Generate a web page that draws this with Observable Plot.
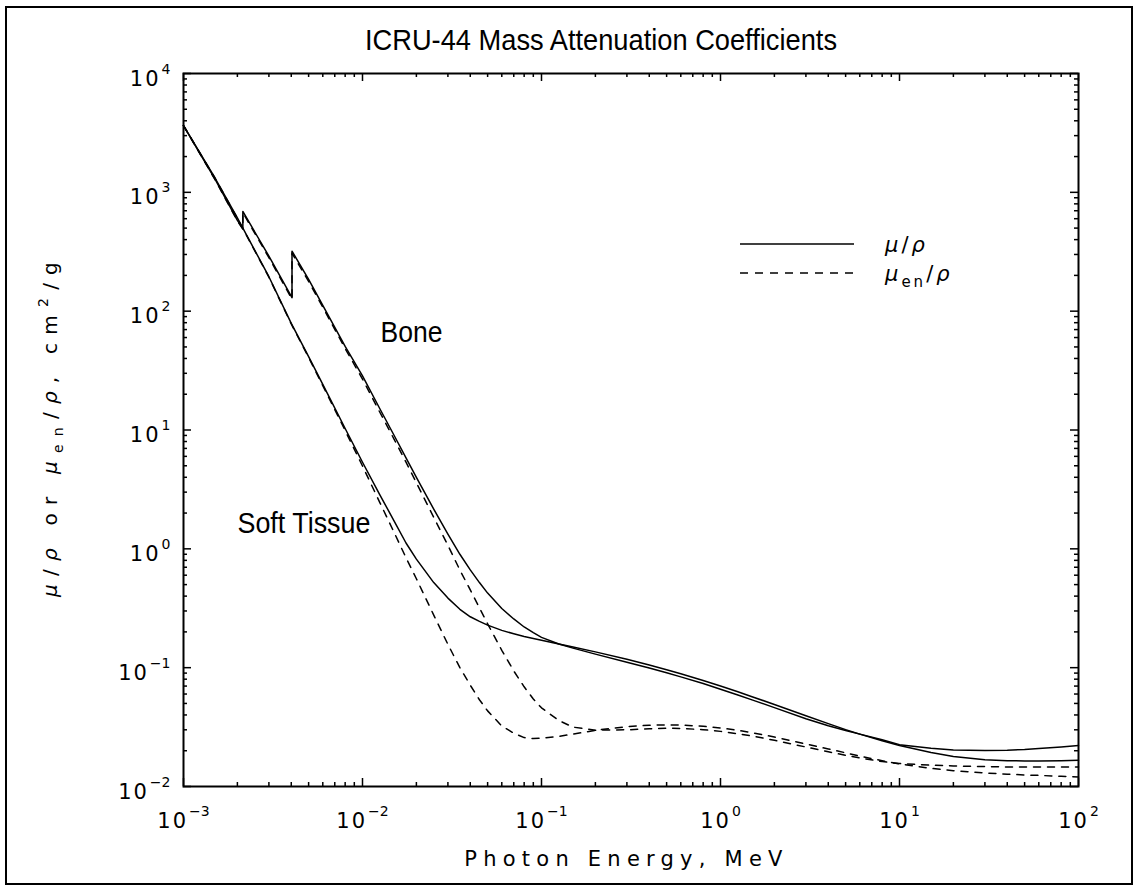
<!DOCTYPE html>
<html>
<head>
<meta charset="utf-8">
<script src="https://cdn.jsdelivr.net/npm/d3@7"></script>
<script src="https://cdn.jsdelivr.net/npm/@observablehq/plot@0.6"></script>
<style>
html, body { margin: 0; padding: 0; background: #fff; }
#wrap { position: relative; width: 1138px; height: 890px; overflow: hidden; }
#chart { position: absolute; left: 0; top: 0; }
#border { position: absolute; left: 5px; top: 6px; width: 1124px; height: 875px; border: 2px solid #000; pointer-events: none; }
</style>
</head>
<body>
<div id="wrap"><div id="chart"></div><div id="border"></div></div>
<script>
// ---------------- data ----------------
// Soft Tissue (ICRU-44)
const softE = [0.001,0.0015,0.002,0.003,0.004,0.005,0.006,0.008,
  0.01,0.0125,0.015,0.0175,0.02,0.025,0.03,0.035,0.04,0.045,0.05,0.06,0.07,0.08,0.09,
  0.1,0.125,0.15,0.2,0.3,0.4,0.5,0.6,0.8,
  1,1.25,1.5,2,3,4,5,6,8,
  10,15,20,30,40,50,60,80,100];
const softMu = [3650,1320,610,195,79,41.5,24.2,10.3,
  5.35,2.85,1.72,1.12,0.82,0.52,0.385,0.31,0.268,0.245,0.228,0.206,0.193,0.183,0.176,
  0.170,0.158,0.149,0.1358,0.1175,0.1051,0.0960,0.0888,0.0779,
  0.0701,0.0627,0.0570,0.0490,0.0394,0.0338,0.0301,0.0276,0.0243,
  0.0221,0.0193,0.0179,0.0168,0.0165,0.0164,0.0164,0.0165,0.0166];
const softMuEn = [3640,1315,605,193,78,40.8,23.6,9.9,
  4.98,2.45,1.38,0.842,0.56,0.277,0.157,0.100,0.0712,0.0537,0.0433,0.0323,0.0281,0.0258,0.0253,
  0.0255,0.0264,0.0276,0.0297,0.0319,0.0328,0.0330,0.0329,0.0321,
  0.0311,0.0297,0.0284,0.0261,0.0228,0.0207,0.0192,0.0180,0.0165,
  0.0155,0.0142,0.0136,0.0130,0.0127,0.0125,0.0124,0.0122,0.0120];
// Bone, Cortical (ICRU-44) — includes P and Ca K-edges
const boneE = [0.001,0.0015,0.002,0.0021455,0.0021455,0.003,0.0040381,0.0040381,
  0.005,0.006,0.008,0.01,0.0125,0.015,0.0175,0.02,0.025,0.03,0.035,0.04,0.045,
  0.05,0.06,0.07,0.08,0.09,0.1,0.125,0.15,0.2,0.3,0.4,
  0.5,0.6,0.8,1,1.25,1.5,2,3,
  4,5,6,8,10,15,20,30,
  40,50,60,80,100];
const boneMu = [3650,1290,580,495,690,290,130,320,
  185,112,50.5,28.5,15.1,9.03,5.82,4.00,2.16,1.33,0.90,0.665,0.52,
  0.424,0.315,0.257,0.220,0.197,0.180,0.158,0.146,0.130,0.1110,0.0992,
  0.0905,0.0837,0.0735,0.0659,0.0589,0.0536,0.0461,0.0372,
  0.0324,0.0296,0.0276,0.0247,0.0225,0.0210,0.0203,0.0201,
  0.0202,0.0205,0.0209,0.0215,0.0221];
const boneMuEn = [3640,1280,575,490,675,282,126,308,
  178,108,48.5,26.8,14.1,8.39,5.36,3.60,1.84,1.07,0.663,0.451,0.319,
  0.234,0.140,0.0938,0.0690,0.0545,0.0459,0.0359,0.0316,0.0298,0.0300,0.0306,
  0.0309,0.0308,0.0301,0.0291,0.0278,0.0266,0.0245,0.0215,
  0.0196,0.0183,0.0174,0.0162,0.0156,0.0151,0.0149,0.0147,
  0.0146,0.0146,0.0146,0.0146,0.0146];

const xTickExps = [-3,-2,-1,0,1,2];
const yTickExps = [-2,-1,0,1,2,3,4];
const minorMult = [2,3,4,5,6,7,8,9];

const titleText = "ICRU-44 Mass Attenuation Coefficients";
const xTitle = "Photon Energy, MeV";
const annotations = [
  {label: "Bone", E: 0.0188, v: 54.5},
  {label: "Soft Tissue", E: 0.00471, v: 1.346}
];

// ---------------- tables ----------------
const toRows = (E, V, s) => E.map((e, i) => ({E: e, v: V[i], s}));
const muRows = [...toRows(softE, softMu, "soft"), ...toRows(boneE, boneMu, "bone")];
const enRows = [...toRows(softE, softMuEn, "soft"), ...toRows(boneE, boneMuEn, "bone")];

const xMajor = xTickExps.map(k => 10 ** k);
const yMajor = yTickExps.map(k => 10 ** k);
const xMinor = xTickExps.slice(0, -1).flatMap(k => minorMult.map(m => m * 10 ** k));
const yMinor = yTickExps.slice(0, -1).flatMap(k => minorMult.map(m => m * 10 ** k));

// ---------------- layout ----------------
const W = 1138, H = 890;
const mL = 183, mR = 60, mT = 73, mB = 104;
const FW = W - mL - mR, FH = H - mT - mB;
const MAJ = 8, MIN = 4;
const tickFont = "DejaVu Sans";
const sansFont = "'Liberation Sans', Arial, sans-serif";

const chart = Plot.plot({
  width: W, height: H,
  marginLeft: mL, marginRight: mR, marginTop: mT, marginBottom: mB,
  style: {background: "transparent", color: "#000", overflow: "visible"},
  x: {type: "log", domain: [1e-3, 1e2], axis: null},
  y: {type: "log", domain: [1e-2, 1e4], axis: null},
  marks: [
    // ticks pointing inward on all four sides
    Plot.tickX(xMajor, {x: d => d, insetTop: FH - MAJ, stroke: "#000", strokeWidth: 1.5}),
    Plot.tickX(xMajor, {x: d => d, insetBottom: FH - MAJ, stroke: "#000", strokeWidth: 1.5}),
    Plot.tickX(xMinor, {x: d => d, insetTop: FH - MIN, stroke: "#000", strokeWidth: 1.5}),
    Plot.tickX(xMinor, {x: d => d, insetBottom: FH - MIN, stroke: "#000", strokeWidth: 1.5}),
    Plot.tickY(yMajor, {y: d => d, insetRight: FW - MAJ, stroke: "#000", strokeWidth: 1.5}),
    Plot.tickY(yMajor, {y: d => d, insetLeft: FW - MAJ, stroke: "#000", strokeWidth: 1.5}),
    Plot.tickY(yMinor, {y: d => d, insetRight: FW - MIN, stroke: "#000", strokeWidth: 1.5}),
    Plot.tickY(yMinor, {y: d => d, insetLeft: FW - MIN, stroke: "#000", strokeWidth: 1.5}),
    // curves
    Plot.line(muRows, {x: "E", y: "v", z: "s", stroke: "#000", strokeWidth: 1.5}),
    Plot.line(enRows, {x: "E", y: "v", z: "s", stroke: "#000", strokeWidth: 1.5, strokeDasharray: "7,7"}),
    Plot.frame({stroke: "#000", strokeWidth: 2}),
    // tick labels
    Plot.text(xTickExps, {x: d => 10 ** d, text: d => "10^" + d, frameAnchor: "bottom",
      lineAnchor: "bottom", dy: 41, fontSize: 21, fontFamily: tickFont, fill: "#000", textAnchor: "middle"}),
    Plot.text(yTickExps, {y: d => 10 ** d, text: d => "10^" + d, frameAnchor: "left",
      lineAnchor: "bottom", dx: -13, dy: 12, fontSize: 21, fontFamily: tickFont, fill: "#000", textAnchor: "end"}),
    // annotations
    Plot.text(annotations, {x: "E", y: "v", text: "label", lineAnchor: "bottom", fontSize: 29,
      fontFamily: sansFont, fill: "#000", textAnchor: "middle"})
  ]
});

document.getElementById("chart").appendChild(chart);
const svg = d3.select(chart);

// superscript exponents on tick labels
svg.selectAll("text").each(function() {
  const m = /^10\^(-?\d+)$/.exec(this.textContent);
  if (!m) return;
  const el = d3.select(this);
  el.text("");
  el.append("tspan").attr("letter-spacing", "2px").text("10");
  el.append("tspan").attr("dy", -12).attr("dx", 1).attr("font-size", 14)
    .text(m[1].replace("-", "\u2212"));
});

// condensed sans labels (title/annotation style)
const condensed = {"Bone": 62, "Soft Tissue": 133};
svg.selectAll("text").each(function() {
  const t = this.textContent;
  if (condensed[t]) {
    d3.select(this).attr("textLength", condensed[t]).attr("lengthAdjust", "spacingAndGlyphs");
  }
});

// title
svg.append("text")
  .attr("x", 601).attr("y", 50)
  .attr("text-anchor", "middle")
  .attr("font-family", sansFont).attr("font-size", 29)
  .attr("textLength", 472).attr("lengthAdjust", "spacingAndGlyphs")
  .attr("fill", "#000")
  .text(titleText);

function rich(sel, segs, size) {
  let shift = 0;
  segs.forEach(s => {
    const ts = sel.append("tspan").text(s.t);
    const target = s.sub ? 0.3 * size : s.sup ? -0.45 * size : 0;
    if (target !== shift) { ts.attr("dy", target - shift); shift = target; }
    if (s.sub || s.sup) ts.attr("font-size", Math.round(size * 0.7));
    if (s.it) ts.attr("font-style", "italic");
  });
}
function fitWidth(sel, target) {
  const node = sel.node();
  const n = node.textContent.length;
  const len = node.getComputedTextLength();
  sel.attr("letter-spacing", ((target - len) / (n - 1)).toFixed(2) + "px");
}

// x-axis title
const xt = svg.append("text")
  .attr("x", mL + FW / 2 - 4).attr("y", 866)
  .attr("text-anchor", "middle")
  .attr("font-family", tickFont).attr("font-size", 21).attr("fill", "#000")
  .text(xTitle);
fitWidth(xt, 318);

// y-axis title (rotated)
const yt = svg.append("text")
  .attr("transform", `translate(57, ${mT + FH / 2 - 4}) rotate(-90)`)
  .attr("text-anchor", "middle")
  .attr("font-family", tickFont).attr("font-size", 20).attr("fill", "#000");
rich(yt, [
  {t: "\u03bc", it: true}, {t: "/"}, {t: "\u03c1", it: true}, {t: " or "},
  {t: "\u03bc", it: true}, {t: "en", sub: true}, {t: "/"}, {t: "\u03c1", it: true},
  {t: ", cm"}, {t: "2", sup: true}, {t: "/g"}
], 20);
fitWidth(yt, 335);

// legend
const legend = svg.append("g");
const legItems = [
  {dash: null, segs: [{t: "\u03bc", it: true}, {t: "/"}, {t: "\u03c1", it: true}]},
  {dash: "8,7", segs: [{t: "\u03bc", it: true}, {t: "en", sub: true}, {t: "/"}, {t: "\u03c1", it: true}]}
];
legItems.forEach((it, i) => {
  const y = 244 + i * 29;
  legend.append("line").attr("x1", 740).attr("x2", 854).attr("y1", y).attr("y2", y)
    .attr("stroke", "#000").attr("stroke-width", 1.5)
    .attr("stroke-dasharray", it.dash);
  const t = legend.append("text").attr("x", 885).attr("y", y + 8)
    .attr("text-anchor", "start")
    .attr("font-family", tickFont).attr("font-size", 21).attr("fill", "#000")
    .attr("letter-spacing", "3px");
  rich(t, it.segs, 21);
});
</script>
</body>
</html>
